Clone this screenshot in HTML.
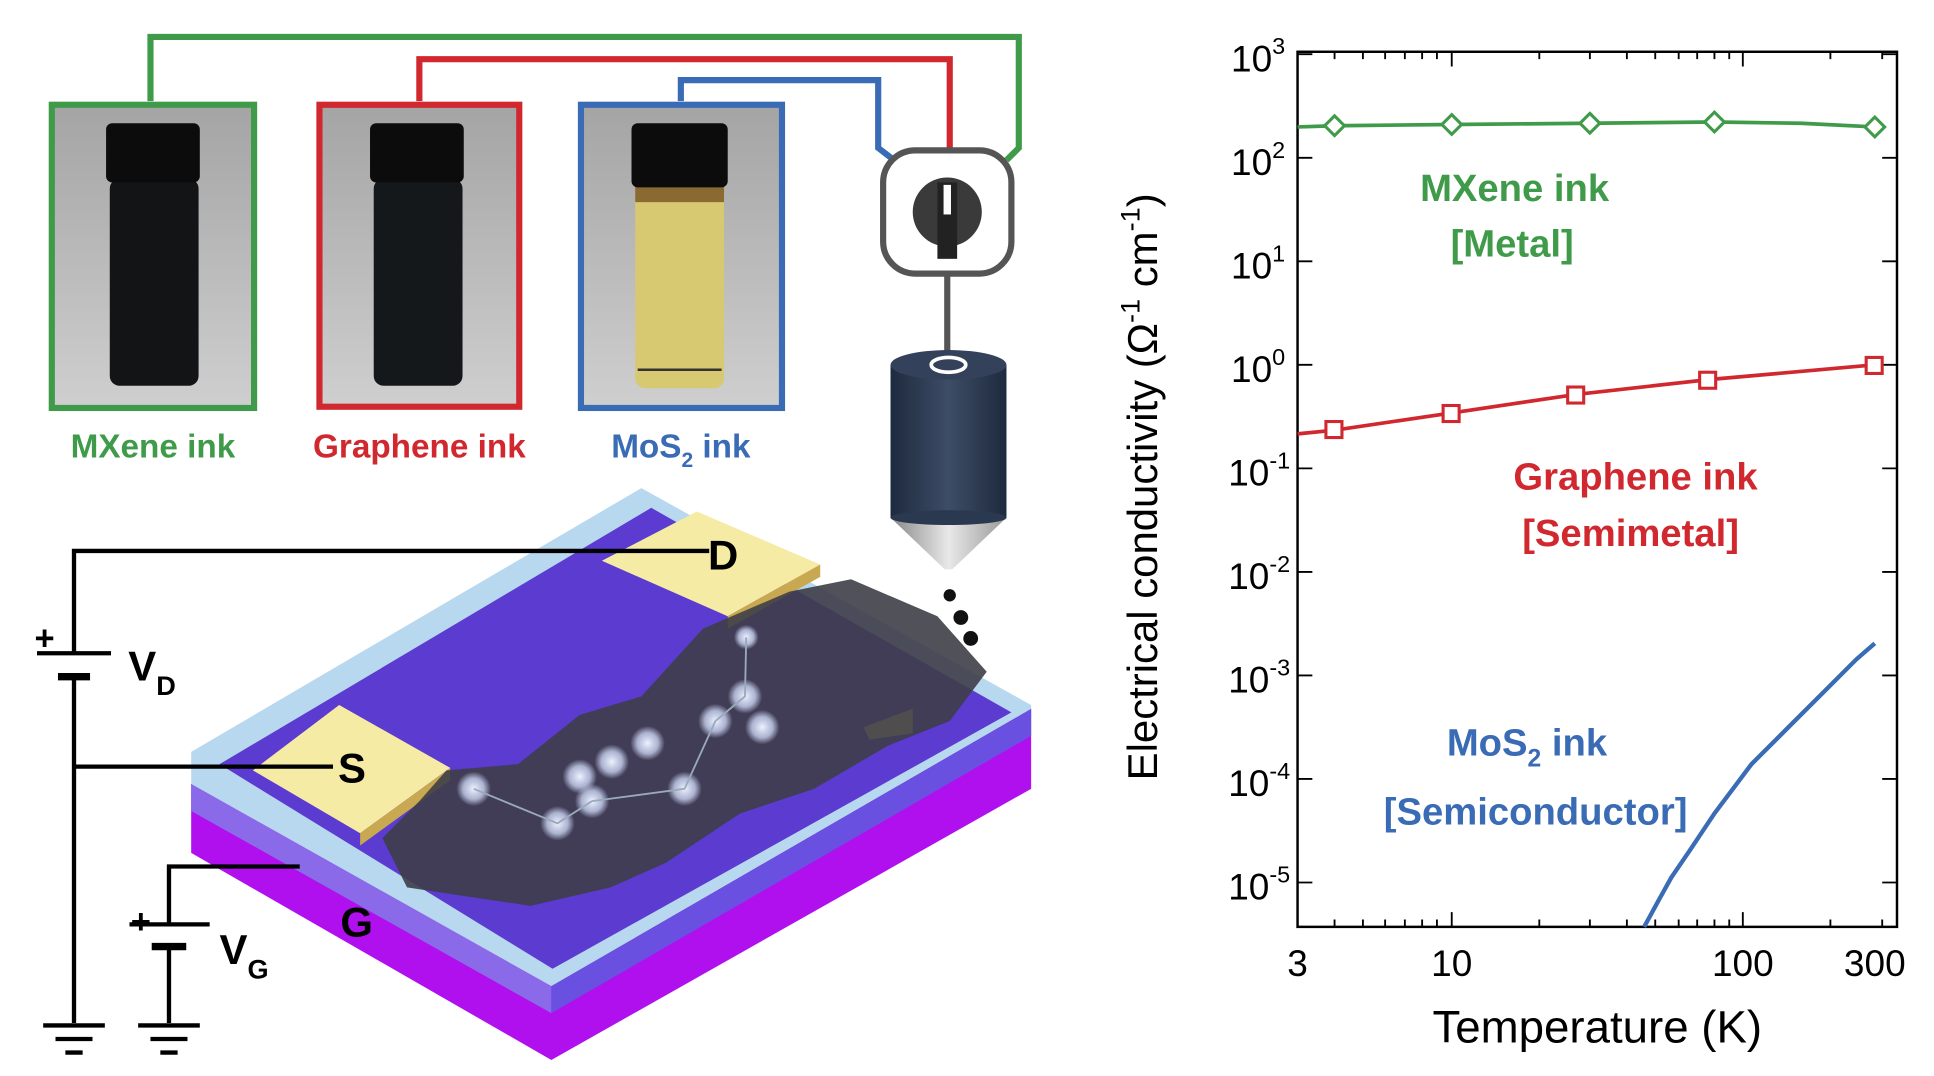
<!DOCTYPE html>
<html><head><meta charset="utf-8"><style>
html,body{margin:0;padding:0;background:#fff;width:1934px;height:1076px;overflow:hidden}
svg{display:block}
text{font-family:"Liberation Sans",sans-serif}
</style></head><body>
<svg width="1934" height="1076" viewBox="0 0 1568 873" preserveAspectRatio="none" xmlns="http://www.w3.org/2000/svg">
<defs>
<linearGradient id="bg" x1="0" y1="0" x2="0" y2="1"><stop offset="0" stop-color="#a4a4a4"/><stop offset="1" stop-color="#cfcfcf"/></linearGradient>
<linearGradient id="pen" x1="0" y1="0" x2="1" y2="0"><stop offset="0" stop-color="#1e2a3e"/><stop offset=".5" stop-color="#3d4d66"/><stop offset="1" stop-color="#1e2a3e"/></linearGradient>
<linearGradient id="cone" x1="0" y1="0" x2="1" y2="0"><stop offset="0" stop-color="#888"/><stop offset=".5" stop-color="#e8e8e8"/><stop offset="1" stop-color="#999"/></linearGradient>
<radialGradient id="glow"><stop offset="0" stop-color="#eef2ff"/><stop offset=".6" stop-color="#c8d2f0" stop-opacity=".8"/><stop offset="1" stop-color="#c8d2f0" stop-opacity="0"/></radialGradient>
</defs>

<polyline points="122,82 122,30 826,30 826,120 816,130" fill="none" stroke="#3f9b4a" stroke-width="5"/>
<polyline points="340,82 340,48 770,48 770,128" fill="none" stroke="#d0282e" stroke-width="5"/>
<polyline points="552,82 552,65 712,65 712,120 725,130" fill="none" stroke="#3a6bb5" stroke-width="5"/>

<rect x="42" y="85" width="164" height="246" fill="url(#bg)" stroke="#3f9b4a" stroke-width="5"/>
<rect x="259" y="85" width="162" height="245" fill="url(#bg)" stroke="#d0282e" stroke-width="5"/>
<rect x="471" y="85" width="163" height="246" fill="url(#bg)" stroke="#3a6bb5" stroke-width="5"/>
<rect x="89" y="145" width="72" height="168" rx="8" fill="#121416"/><rect x="86" y="100" width="76" height="48" rx="5" fill="#0c0c0c"/>
<rect x="303" y="145" width="72" height="168" rx="8" fill="#15181a"/><rect x="300" y="100" width="76" height="48" rx="5" fill="#0c0c0c"/>
<rect x="515" y="150" width="72" height="165" rx="8" fill="#d7c872"/><rect x="515" y="150" width="72" height="14" fill="#8a6a30"/><rect x="512" y="100" width="78" height="52" rx="5" fill="#0c0c0c"/><line x1="517" y1="300" x2="585" y2="300" stroke="#333" stroke-width="2"/>

<text x="124" y="371" font-size="27" font-weight="bold" fill="#3f9b4a" text-anchor="middle">MXene ink</text>
<text x="340" y="371" font-size="27" font-weight="bold" fill="#d0282e" text-anchor="middle">Graphene ink</text>
<text x="552" y="371" font-size="27" font-weight="bold" fill="#3a6bb5" text-anchor="middle">MoS<tspan font-size="17" dy="8">2</tspan><tspan dy="-8"> ink</tspan></text>

<rect x="716" y="122" width="104" height="100" rx="26" fill="#fff" stroke="#555" stroke-width="5"/>
<circle cx="768" cy="172" r="28" fill="#3a3a3a"/>
<rect x="760" y="148" width="16" height="62" fill="#222"/>
<rect x="765" y="150" width="6" height="24" fill="#fff"/>
<line x1="768" y1="222" x2="768" y2="290" stroke="#555" stroke-width="5"/>
<rect x="722" y="296" width="94" height="124" fill="url(#pen)"/>
<ellipse cx="769" cy="296" rx="47" ry="12" fill="#33425a"/>
<ellipse cx="769" cy="296" rx="14" ry="6" fill="none" stroke="#fff" stroke-width="3"/>
<polygon points="722,420 816,420 772,462 766,462" fill="url(#cone)"/>
<ellipse cx="769" cy="420" rx="47" ry="6" fill="#2a3850"/>
<circle cx="770" cy="483" r="5" fill="#111"/><circle cx="779" cy="501" r="6" fill="#111"/><circle cx="787" cy="518" r="6" fill="#111"/>

<!-- device -->
<polygon points="155,636 447,800 836,575 836,640 447,860 155,692" fill="#b010ee"/>
<polygon points="155,636 447,800 447,822 155,658" fill="#8a6ae8"/>
<polygon points="447,800 836,575 836,597 447,822" fill="#6a50e0"/>
<polygon points="155,610 520,396 836,572 836,575 447,800 155,636" fill="#b8d8f0"/>
<polygon points="178,620 528,412 820,578 448,786" fill="#5b3bd0"/>
<polygon points="205,625 275,572 365,623 292,676" fill="#f6eba4"/><polygon points="292,676 365,623 365,633 292,686" fill="#c8a850"/>
<polygon points="488,455 565,415 665,458 590,500" fill="#f6eba4"/><polygon points="590,500 665,458 665,468 590,510" fill="#c8a850"/>
<polygon points="700,590 740,575 740,595 705,600" fill="#f0d890"/>
<polygon points="362,625 420,620 470,580 520,565 570,510 640,480 690,470 760,500 800,545 770,585 720,605 660,640 600,660 540,700 495,720 430,735 330,720 310,680 340,650" fill="#3e3e48" opacity=".9"/>
<g fill="url(#glow)"><circle cx="384" cy="640" r="14"/><circle cx="452" cy="668" r="14"/><circle cx="480" cy="650" r="14"/><circle cx="470" cy="630" r="14"/><circle cx="496" cy="618" r="14"/><circle cx="525" cy="603" r="14"/><circle cx="555" cy="640" r="14"/><circle cx="580" cy="585" r="14"/><circle cx="604" cy="565" r="14"/><circle cx="618" cy="590" r="14"/><circle cx="605" cy="517" r="10"/></g>
<polyline points="384,640 452,668 480,650 555,640 580,585 604,565 605,517" fill="none" stroke="#9ab" stroke-width="1.5"/>

<g stroke="#000" stroke-width="3.5" fill="none">
<polyline points="575,447 60,447 60,530"/>
<line x1="30" y1="530" x2="90" y2="530"/><line x1="47" y1="549" x2="73" y2="549" stroke-width="6"/>
<line x1="60" y1="549" x2="60" y2="830"/>
<line x1="60" y1="622" x2="270" y2="622"/>
<line x1="35" y1="832" x2="85" y2="832"/><line x1="45" y1="843" x2="75" y2="843"/><line x1="53" y1="854" x2="67" y2="854"/>
<polyline points="243,703 137,703 137,750"/>
<line x1="105" y1="750" x2="170" y2="750"/><line x1="123" y1="768" x2="151" y2="768" stroke-width="6"/>
<line x1="137" y1="768" x2="137" y2="830"/>
<line x1="112" y1="832" x2="162" y2="832"/><line x1="122" y1="843" x2="152" y2="843"/><line x1="130" y1="854" x2="144" y2="854"/>
</g>
<g font-weight="bold" fill="#000">
<text x="574" y="462" font-size="34">D</text>
<text x="274" y="635" font-size="34">S</text>
<text x="276" y="760" font-size="34">G</text>
<text x="28" y="527" font-size="28">+</text>
<text x="104" y="552" font-size="34">V<tspan font-size="22" dy="12">D</tspan></text>
<text x="106" y="757" font-size="28">+</text>
<text x="178" y="782" font-size="34">V<tspan font-size="22" dy="12">G</tspan></text>
</g>

<rect x="1052" y="42" width="486" height="710" fill="none" stroke="#000" stroke-width="2"/>
<g stroke="#000" stroke-width="1.5">
<path d="M1052,44h12M1052,128h12M1052,212h12M1052,296h12M1052,380h12M1052,464h12M1052,548h12M1052,632h12M1052,716h12
M1538,44h-12M1538,128h-12M1538,212h-12M1538,296h-12M1538,380h-12M1538,464h-12M1538,548h-12M1538,632h-12M1538,716h-12"/>
<path d="M1177,752v-12M1413,752v-12M1177,42v12M1413,42v12
M1082,752v-6M1105,752v-6M1123,752v-6M1139,752v-6M1153,752v-6M1165,752v-6
M1248,752v-6M1289,752v-6M1319,752v-6M1342,752v-6M1361,752v-6M1376,752v-6M1390,752v-6M1402,752v-6
M1484,752v-6M1526,752v-6
M1082,42v6M1105,42v6M1123,42v6M1139,42v6M1153,42v6M1165,42v6
M1248,42v6M1289,42v6M1319,42v6M1342,42v6M1361,42v6M1376,42v6M1390,42v6M1402,42v6M1484,42v6M1526,42v6"/>
</g>
<g font-size="30" fill="#000" text-anchor="end">
<text x="1042" y="58">10<tspan font-size="19" dy="-14">3</tspan></text>
<text x="1042" y="142">10<tspan font-size="19" dy="-14">2</tspan></text>
<text x="1042" y="226">10<tspan font-size="19" dy="-14">1</tspan></text>
<text x="1042" y="310">10<tspan font-size="19" dy="-14">0</tspan></text>
<text x="1046" y="394">10<tspan font-size="19" dy="-14">-1</tspan></text>
<text x="1046" y="478">10<tspan font-size="19" dy="-14">-2</tspan></text>
<text x="1046" y="562">10<tspan font-size="19" dy="-14">-3</tspan></text>
<text x="1046" y="646">10<tspan font-size="19" dy="-14">-4</tspan></text>
<text x="1046" y="730">10<tspan font-size="19" dy="-14">-5</tspan></text>
</g>
<g font-size="30" fill="#000" text-anchor="middle">
<text x="1052" y="792">3</text><text x="1177" y="792">10</text><text x="1413" y="792">100</text><text x="1520" y="792">300</text>
</g>
<text x="1295" y="846" font-size="37" text-anchor="middle">Temperature (K)</text>
<text transform="translate(938,395) rotate(-90)" font-size="34" text-anchor="middle">Electrical conductivity (Ω<tspan font-size="22" dy="-14">-1</tspan><tspan dy="14"> cm</tspan><tspan font-size="22" dy="-14">-1</tspan><tspan dy="14">)</tspan></text>

<polyline points="1052,103 1082,102 1177,101 1289,100 1390,99 1460,100 1520,103" fill="none" stroke="#3f9b4a" stroke-width="3"/>
<g fill="#fff" stroke="#3f9b4a" stroke-width="2.5">
<polygon points="1082,94 1090,102 1082,110 1074,102"/><polygon points="1177,93 1185,101 1177,109 1169,101"/><polygon points="1289,92 1297,100 1289,108 1281,100"/><polygon points="1390,91 1398,99 1390,107 1382,99"/><polygon points="1520,95 1528,103 1520,111 1512,103"/>
</g>
<polyline points="1052,352 1082,349 1177,335 1278,320 1385,308 1520,296" fill="none" stroke="#d0282e" stroke-width="3"/>
<g fill="#fff" stroke="#d0282e" stroke-width="2.5">
<rect x="1075" y="342" width="13" height="13"/><rect x="1170" y="329" width="13" height="13"/><rect x="1271" y="314" width="13" height="13"/><rect x="1378" y="302" width="13" height="13"/><rect x="1513" y="290" width="13" height="13"/>
</g>
<polyline points="1333,752 1345,730 1355,712 1370,690 1390,660 1420,620 1450,590 1480,560 1505,535 1520,522" fill="none" stroke="#3a6bb5" stroke-width="3.5"/>

<g font-size="31" font-weight="bold" text-anchor="middle">
<text x="1228" y="163" fill="#3f9b4a">MXene ink</text><text x="1226" y="208" fill="#3f9b4a">[Metal]</text>
<text x="1326" y="397" fill="#d0282e">Graphene ink</text><text x="1322" y="443" fill="#d0282e">[Semimetal]</text>
<text x="1238" y="613" fill="#3a6bb5">MoS<tspan font-size="20" dy="9">2</tspan><tspan dy="-9"> ink</tspan></text>
<text x="1245" y="669" fill="#3a6bb5">[Semiconductor]</text>
</g>
</svg>
</body></html>
